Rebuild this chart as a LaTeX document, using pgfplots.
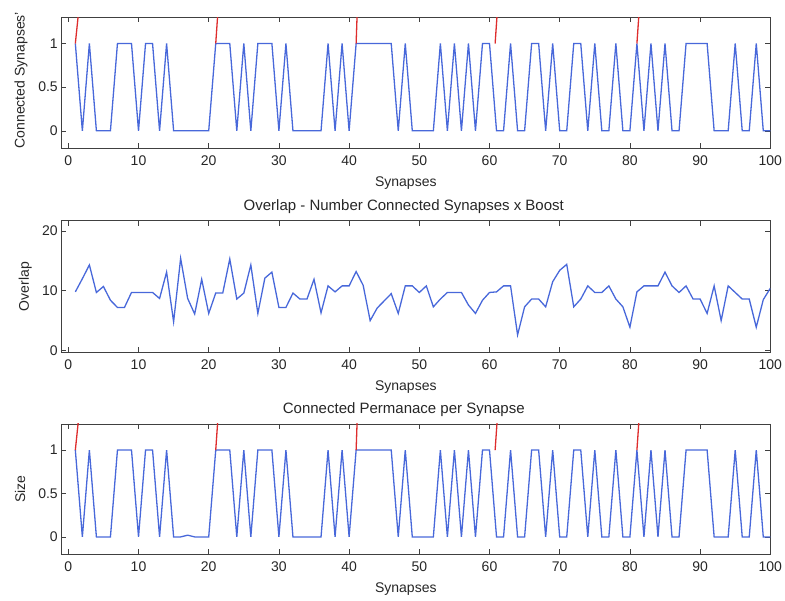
\documentclass[border=0pt]{standalone}
\usepackage{fontspec}
\setmainfont{Liberation Sans}
\usepackage{pgfplots}
\pgfplotsset{compat=1.18}
\definecolor{mblue}{RGB}{72,104,218}
\definecolor{mred}{RGB}{222,45,45}
\pgfplotsset{
  mstyle/.style={
    scale only axis, width=709pt, xmin=-1, xmax=100, xtick={0,10,...,100},
    tick align=inside, major tick length=5pt,
    axis line style={draw=black!75, line width=0.8pt},
    tick style={black!75, line width=0.6pt},
    tick label style={font=\fontsize{14}{16}\selectfont, text=black!85},
    xticklabel style={yshift=-4pt},
    label style={font=\fontsize{14}{16}\selectfont, text=black!85},
    title style={font=\fontsize{15}{17}\selectfont, text=black!85, xshift=-12pt, yshift=-2pt},
    /pgf/number format/assume math mode=true,
    xlabel={Synapses},
    xlabel style={at={(axis description cs:0.5,0)}, anchor=center, yshift=-35pt, xshift=-10pt},
    clip=true,
  }
}
\begin{document}
\begin{tikzpicture}[x=1pt,y=1pt]
\useasboundingbox (0,0) rectangle (785,601);
% ---------- top ----------
\begin{axis}[mstyle, at={(61.3pt,452.7pt)}, anchor=south west, height=131pt,
  ymin=-0.2, ymax=1.3, ytick={0,0.5,1}, ylabel={Connected Synapses'},
  ylabel style={at={(axis description cs:-0.057,0.52)}, anchor=center}]
\addplot[mblue, line width=1.3pt] coordinates {
(1,1)(2,0)(3,1)(4,0)(5,0)(6,0)(7,1)(8,1)(9,1)(10,0)(11,1)(12,1)(13,0)(14,1)(15,0)(16,0)(17,0)(18,0)(19,0)(20,0)
(21,1)(22,1)(23,1)(24,0)(25,1)(26,0)(27,1)(28,1)(29,1)(30,0)(31,1)(32,0)(33,0)(34,0)(35,0)(36,0)(37,1)(38,0)(39,1)(40,0)
(41,1)(42,1)(43,1)(44,1)(45,1)(46,1)(47,0)(48,1)(49,0)(50,0)(51,0)(52,0)(53,1)(54,0)(55,1)(56,0)(57,1)(58,0)(59,1)(60,1)
(61,0)(62,0)(63,1)(64,0)(65,0)(66,1)(67,1)(68,0)(69,1)(70,0)(71,0)(72,1)(73,1)(74,0)(75,1)(76,0)(77,0)(78,1)(79,0)(80,0)
(81,1)(82,0)(83,1)(84,0)(85,1)(86,0)(87,0)(88,1)(89,1)(90,1)(91,1)(92,0)(93,0)(94,0)(95,1)(96,0)(97,0)(98,1)(99,0)(100,0)};
\addplot[mred, line width=1.3pt, unbounded coords=jump] coordinates {
(1,1)(1.45,1.35)(1.5,nan)(21,1)(21.3,1.35)(21.5,nan)(41,1)(41.15,1.35)(41.5,nan)(60.8,1)(61.1,1.35)(61.5,nan)(81,1)(81.3,1.35)};
\end{axis}
% ---------- middle ----------
\begin{axis}[mstyle, at={(61.3pt,248.7pt)}, anchor=south west, height=131.6pt,
  ymin=-0.3, ymax=21.7, ytick={0,10,20}, ylabel={Overlap},
  ylabel style={at={(axis description cs:-0.051,0.5)}, anchor=center},
  title={Overlap - Number Connected Synapses x Boost}]
\addplot[mblue, line width=1.3pt] coordinates {
(1,9.8)(2,12.0)(3,14.3)(4,9.7)(5,10.7)(6,8.4)(7,7.2)(8,7.2)(9,9.7)(10,9.7)(11,9.7)(12,9.7)(13,8.7)(14,13.1)(15,4.8)(16,15.4)(17,8.7)(18,6.1)(19,11.9)(20,6.2)
(21,9.6)(22,9.6)(23,15.3)(24,8.6)(25,9.6)(26,14.3)(27,6.2)(28,12.1)(29,13.1)(30,7.2)(31,7.2)(32,9.6)(33,8.6)(34,8.6)(35,11.9)(36,6.3)(37,10.8)(38,9.8)(39,10.8)(40,10.8)
(41,13.2)(42,10.9)(43,5.0)(44,7.1)(45,8.3)(46,9.5)(47,6.2)(48,10.8)(49,10.8)(50,9.7)(51,10.8)(52,7.3)(53,8.6)(54,9.7)(55,9.7)(56,9.7)(57,7.6)(58,6.2)(59,8.4)(60,9.7)
(61,9.8)(62,10.8)(63,10.8)(64,2.6)(65,7.3)(66,8.6)(67,8.6)(68,7.3)(69,11.5)(70,13.4)(71,14.4)(72,7.3)(73,8.6)(74,10.8)(75,9.7)(76,9.7)(77,10.8)(78,8.6)(79,7.3)(80,3.9)
(81,9.8)(82,10.8)(83,10.8)(84,10.8)(85,13.1)(86,10.8)(87,9.7)(88,10.8)(89,8.6)(90,8.6)(91,6.2)(92,10.8)(93,5.0)(94,10.8)(95,9.7)(96,8.6)(97,8.6)(98,3.9)(99,8.5)(100,10.4)};
\end{axis}
% ---------- bottom ----------
\begin{axis}[mstyle, at={(61.3pt,46.7pt)}, anchor=south west, height=130.3pt,
  ymin=-0.2, ymax=1.3, ytick={0,0.5,1}, ylabel={Size},
  ylabel style={at={(axis description cs:-0.058,0.5)}, anchor=center},
  title={Connected Permanace per Synapse}]
\addplot[mblue, line width=1.3pt] coordinates {
(1,1)(2,0)(3,1)(4,0)(5,0)(6,0)(7,1)(8,1)(9,1)(10,0)(11,1)(12,1)(13,0)(14,1)(15,0)(16,0)(17,0.02)(18,0)(19,0)(20,0)
(21,1)(22,1)(23,1)(24,0)(25,1)(26,0)(27,1)(28,1)(29,1)(30,0)(31,1)(32,0)(33,0)(34,0)(35,0)(36,0)(37,1)(38,0)(39,1)(40,0)
(41,1)(42,1)(43,1)(44,1)(45,1)(46,1)(47,0)(48,1)(49,0)(50,0)(51,0)(52,0)(53,1)(54,0)(55,1)(56,0)(57,1)(58,0)(59,1)(60,1)
(61,0)(62,0)(63,1)(64,0)(65,0)(66,1)(67,1)(68,0)(69,1)(70,0)(71,0)(72,1)(73,1)(74,0)(75,1)(76,0)(77,0)(78,1)(79,0)(80,0)
(81,1)(82,0)(83,1)(84,0)(85,1)(86,0)(87,0)(88,1)(89,1)(90,1)(91,1)(92,0)(93,0)(94,0)(95,1)(96,0)(97,0)(98,1)(99,0)(100,0)};
\addplot[mred, line width=1.3pt, unbounded coords=jump] coordinates {
(1,1)(1.45,1.35)(1.5,nan)(21,1)(21.3,1.35)(21.5,nan)(41,1)(41.15,1.35)(41.5,nan)(60.8,1)(61.1,1.35)(61.5,nan)(81,1)(81.3,1.35)};
\end{axis}
\end{tikzpicture}
\end{document}
